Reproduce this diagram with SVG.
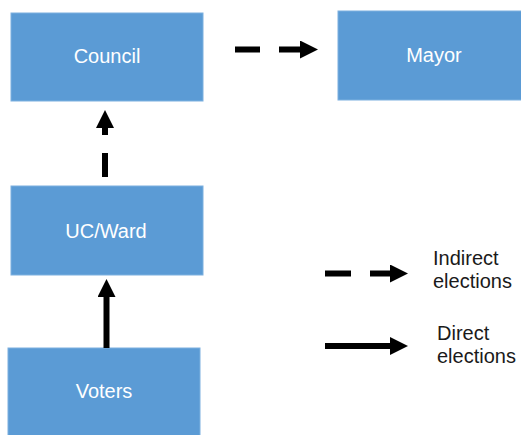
<svg xmlns="http://www.w3.org/2000/svg" width="521" height="435" viewBox="0 0 521 435">
<style>
.box{fill:#5B9BD5;stroke:#7DB0DF;stroke-width:1}
.lbl{font-family:"Liberation Sans",Arial,sans-serif;font-size:20px;fill:#ffffff;text-anchor:middle}
.leg{font-family:"Liberation Sans",Arial,sans-serif;font-size:20px;fill:#1a1a1a}
.c{stroke:#000;stroke-width:6;fill:none;marker-end:url(#ah)}
.d{stroke-dasharray:25 19}
</style>
<defs>
<marker id="ah" viewBox="0 0 10 10" refX="0" refY="5" markerWidth="3" markerHeight="3" orient="auto" markerUnits="strokeWidth">
<path d="M0,0 L10,5 L0,10 Z" fill="#000"/>
</marker>
</defs>
<rect width="521" height="435" fill="#ffffff"/>
<g id="council"><rect class="box" x="11" y="13" width="192" height="88"/><text class="lbl" x="107" y="63">Council</text></g>
<g id="mayor"><rect class="box" x="338" y="11" width="184" height="89"/><text class="lbl" x="434" y="62">Mayor</text></g>
<g id="ucward"><rect class="box" x="11" y="186" width="192" height="89"/><text class="lbl" x="106" y="238">UC/Ward</text></g>
<g id="voters"><rect class="box" x="8" y="348" width="192" height="90"/><text class="lbl" x="104" y="398">Voters</text></g>
<g id="connectors">
<line class="c d" x1="235" y1="49.5" x2="300" y2="49.5"/>
<line class="c" x1="105" y1="177" x2="105" y2="128" stroke-dasharray="24 18"/>
<line class="c" x1="106.5" y1="348" x2="106.5" y2="297"/>
</g>
<g id="legend">
<line class="c" x1="325" y1="273.5" x2="390" y2="273.5" stroke-dasharray="26 19"/>
<line class="c" x1="325" y1="346" x2="390" y2="346"/>
<text class="leg" x="433" y="265">Indirect</text>
<text class="leg" x="433" y="288">elections</text>
<text class="leg" x="437" y="340">Direct</text>
<text class="leg" x="437" y="363">elections</text>
</g>
</svg>
